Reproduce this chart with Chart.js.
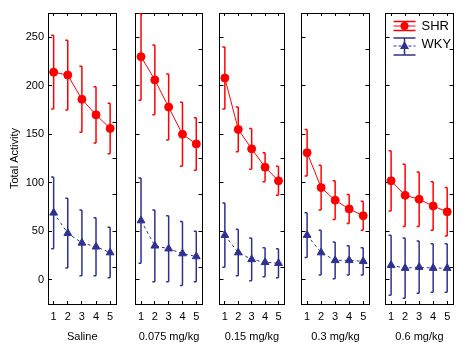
<!DOCTYPE html>
<html>
<head>
<meta charset="utf-8">
<script src="https://cdn.jsdelivr.net/npm/chart.js@4"></script>
<style>
  body { margin: 0; background: #fff; }
  #wrap { position: relative; width: 467px; height: 350px; overflow: hidden; }
  .panel { position: absolute; top: 0; }
</style>
</head>
<body>
<div id="wrap"></div>
<script>
// Data: one row per dose, one value per session
const doses = ['Saline', '0.075 mg/kg', '0.15 mg/kg', '0.3 mg/kg', '0.6 mg/kg'];
const sessions = [1, 2, 3, 4, 5];
const seriesNames = ['SHR', 'WKY'];
const yTicks = [0, 50, 100, 150, 200, 250];

const shrMeans = [
  [214, 211, 186, 170, 156],
  [230, 206, 178, 150, 140],
  [208, 155, 135, 116, 102],
  [131, 95, 82, 73, 66],
  [102, 87, 83, 76, 70]
];
const shrErr = [
  [38, 36, 34, 29, 26],
  [45, 36, 34, 33, 27],
  [32, 23, 21, 15, 15],
  [24, 23, 20, 15, 15],
  [31, 32, 28, 25, 25]
];
const wkyMeans = [
  [69, 48, 38, 34, 28],
  [61, 35, 32, 27, 24],
  [46, 28, 21, 18, 17],
  [46, 28, 20, 20, 19],
  [15, 12, 13, 12, 12]
];
const wkyErr = [
  [37, 36, 34, 30, 26],
  [44, 37, 34, 33, 26],
  [33, 24, 22, 15, 15],
  [23, 23, 19, 15, 14],
  [31, 31, 27, 25, 25]
];

const RED = '#ff0000';
const BLUE = '#2e3192';
const FONT = "'Liberation Sans', Arial, sans-serif";

Chart.defaults.font.family = FONT;
Chart.defaults.font.size = 11;
Chart.defaults.color = '#000';

// panel edges on the page
const panelLeft = [48, 133, 217, 299, 383];
const panelRight = [120, 206, 288, 373, 457];

// vertical whiskers with a small cap on the left side
const errorBars = {
  id: 'errorBars',
  beforeDatasetsDraw(chart) {
    const { ctx, chartArea: a, scales: { x, y } } = chart;
    ctx.save();
    ctx.beginPath();
    ctx.rect(a.left, a.top, a.right - a.left, a.bottom - a.top);
    ctx.clip();
    chart.data.datasets.forEach(ds => {
      ctx.strokeStyle = ds.borderColor;
      ctx.lineWidth = 1.5;
      ds.data.forEach((p, i) => {
        const e = ds.errors[i];
        const px = x.getPixelForValue(p.x);
        const top = y.getPixelForValue(p.y + e);
        const bot = y.getPixelForValue(p.y - e);
        ctx.beginPath();
        ctx.moveTo(px, top);
        ctx.lineTo(px, bot);
        ctx.moveTo(px - 2.5, top);
        ctx.lineTo(px, top);
        ctx.moveTo(px - 2.5, bot);
        ctx.lineTo(px, bot);
        ctx.stroke();
      });
    });
    ctx.restore();
  }
};

// legend box in the last panel
const seriesLegend = {
  id: 'seriesLegend',
  afterDraw(chart) {
    const { ctx, chartArea: a } = chart;
    const items = [
      { label: seriesNames[0], color: RED, dash: [], mid: a.top + 13, up: 4.5, down: 4.5, textY: a.top + 13, marker: 'circle' },
      { label: seriesNames[1], color: BLUE, dash: [3, 2], mid: a.top + 33, up: 8, down: 9, textY: a.top + 31, marker: 'triangle' }
    ];
    const x0 = a.left + 8, x1 = a.left + 30, xm = a.left + 19;
    ctx.save();
    items.forEach(it => {
      ctx.strokeStyle = it.color;
      ctx.fillStyle = it.color;
      ctx.lineWidth = 1.5;
      ctx.setLineDash([]);
      ctx.beginPath();
      ctx.moveTo(x0, it.mid - it.up); ctx.lineTo(x1, it.mid - it.up);
      ctx.moveTo(x0, it.mid + it.down); ctx.lineTo(x1, it.mid + it.down);
      ctx.moveTo(xm, it.mid - it.up); ctx.lineTo(xm, it.mid + it.down);
      ctx.stroke();
      ctx.lineWidth = 1;
      ctx.setLineDash(it.dash);
      ctx.beginPath();
      ctx.moveTo(x0, it.mid); ctx.lineTo(x1, it.mid);
      ctx.stroke();
      ctx.setLineDash([]);
      ctx.beginPath();
      if (it.marker === 'circle') {
        ctx.arc(xm, it.mid, 4, 0, Math.PI * 2);
      } else {
        ctx.moveTo(xm, it.mid - 5);
        ctx.lineTo(xm + 4.5, it.mid + 3);
        ctx.lineTo(xm - 4.5, it.mid + 3);
        ctx.closePath();
      }
      ctx.fill();
      ctx.fillStyle = '#000';
      ctx.font = '13px ' + FONT;
      ctx.textBaseline = 'middle';
      ctx.textAlign = 'left';
      ctx.fillText(it.label, a.left + 36, it.textY);
    });
    ctx.restore();
  }
};

const sessionTicks = s => { s.ticks = sessions.map(v => ({ value: v })); };
const noPad = s => { s.paddingLeft = 0; s.paddingRight = 0; s.paddingTop = 0; s.paddingBottom = 0; };

function makePanel(i) {
  const first = i === 0;
  const axisW = first ? 48 : 3;
  const left = panelLeft[i] - axisW;
  const width = axisW + (panelRight[i] - panelLeft[i]) + 2;

  const canvas = document.createElement('canvas');
  canvas.className = 'panel';
  canvas.style.left = left + 'px';
  canvas.width = width;
  canvas.height = 350;
  document.getElementById('wrap').appendChild(canvas);

  const pts = arr => sessions.map((s, k) => ({ x: s, y: arr[k] }));

  new Chart(canvas, {
    type: 'line',
    data: {
      datasets: [
        {
          label: seriesNames[0],
          data: pts(shrMeans[i]),
          errors: shrErr[i],
          borderColor: RED,
          backgroundColor: RED,
          borderWidth: 1,
          pointStyle: 'circle',
          pointRadius: 4,
          tension: 0
        },
        {
          label: seriesNames[1],
          data: pts(wkyMeans[i]),
          errors: wkyErr[i],
          borderColor: BLUE,
          backgroundColor: BLUE,
          borderWidth: 1,
          borderDash: [3, 3],
          pointStyle: 'triangle',
          pointRadius: 4.5,
          tension: 0
        }
      ]
    },
    options: {
      responsive: false,
      animation: false,
      layout: { padding: 0 },
      plugins: { legend: { display: false }, tooltip: { enabled: false } },
      scales: {
        x: {
          type: 'linear',
          position: 'bottom',
          min: 0.6,
          max: 5.45,
          afterBuildTicks: sessionTicks,
          afterFit: s => { s.height = 46; noPad(s); },
          ticks: { autoSkip: false, padding: 9, maxRotation: 0, font: { size: 11 } },
          grid: { drawOnChartArea: false, tickLength: -3, color: '#000' },
          border: { color: '#000', width: 1 },
          title: { display: true, text: doses[i], font: { size: 11 }, padding: { top: 0, bottom: 6 } }
        },
        xTop: {
          type: 'linear',
          position: 'top',
          min: 0.6,
          max: 5.45,
          afterBuildTicks: sessionTicks,
          afterFit: s => { s.height = 13; noPad(s); },
          ticks: { display: false },
          grid: { drawOnChartArea: false, tickLength: -3, color: '#000' },
          border: { color: '#000', width: 1 }
        },
        y: {
          type: 'linear',
          position: 'left',
          min: -25,
          max: 275,
          afterBuildTicks: s => { s.ticks = yTicks.map(v => ({ value: v })); },
          afterFit: s => { s.width = axisW; noPad(s); },
          ticks: { display: first, autoSkip: false, padding: 8, font: { size: 11 } },
          grid: { drawOnChartArea: false, tickLength: -4, color: '#000' },
          border: { color: '#000', width: 1 },
          title: { display: first, text: 'Total Activity', font: { size: 11 }, padding: { top: 8, bottom: 0 } }
        },
        yRight: {
          type: 'linear',
          position: 'right',
          min: 0,
          max: 8,
          afterBuildTicks: s => { s.ticks = s.ticks.filter(t => t.value > 0 && t.value < 8); },
          afterFit: s => { s.width = 2; noPad(s); },
          ticks: { stepSize: 1, display: false },
          grid: { drawOnChartArea: false, tickLength: -4, color: '#000' },
          border: { color: '#000', width: 1 }
        }
      }
    },
    plugins: i === doses.length - 1 ? [errorBars, seriesLegend] : [errorBars]
  });
}

doses.forEach((d, i) => makePanel(i));
</script>
</body>
</html>
